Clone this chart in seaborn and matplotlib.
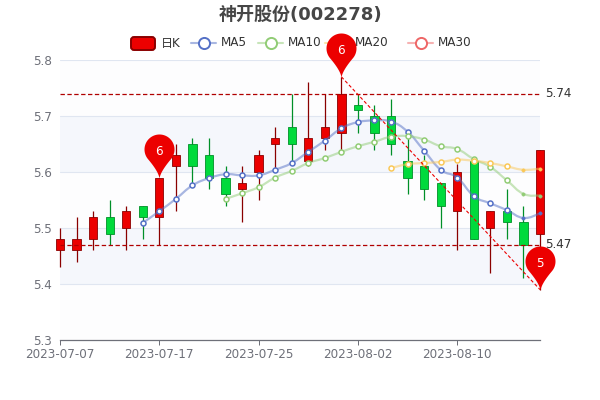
import matplotlib
matplotlib.use('Agg')
import matplotlib.pyplot as plt
import numpy as np
import pandas as pd
import seaborn as sns
from matplotlib.lines import Line2D
from matplotlib.patches import FancyBboxPatch, PathPatch
from matplotlib.path import Path
from matplotlib.transforms import Affine2D

# Daily k-line values
dates = ['2023-07-07', '2023-07-10', '2023-07-11', '2023-07-12', '2023-07-13', '2023-07-14',
         '2023-07-17', '2023-07-18', '2023-07-19', '2023-07-20', '2023-07-21', '2023-07-24',
         '2023-07-25', '2023-07-26', '2023-07-27', '2023-07-28', '2023-07-31', '2023-08-01',
         '2023-08-02', '2023-08-03', '2023-08-04', '2023-08-07', '2023-08-08', '2023-08-09',
         '2023-08-10', '2023-08-11', '2023-08-14', '2023-08-15', '2023-08-16', '2023-08-17']
opens = [5.46, 5.46, 5.48, 5.52, 5.50, 5.54, 5.52, 5.61, 5.65, 5.63, 5.59, 5.57, 5.60, 5.65, 5.68,
         5.62, 5.66, 5.67, 5.72, 5.70, 5.70, 5.62, 5.61, 5.58, 5.53, 5.62, 5.50, 5.53, 5.51, 5.49]
closes = [5.48, 5.48, 5.52, 5.49, 5.53, 5.52, 5.59, 5.63, 5.61, 5.59, 5.56, 5.58, 5.63, 5.66, 5.65,
          5.66, 5.68, 5.74, 5.71, 5.67, 5.65, 5.59, 5.57, 5.54, 5.60, 5.48, 5.53, 5.51, 5.47, 5.64]
lows = [5.43, 5.44, 5.46, 5.47, 5.46, 5.48, 5.47, 5.53, 5.58, 5.57, 5.54, 5.51, 5.55, 5.60, 5.62,
        5.61, 5.64, 5.64, 5.67, 5.64, 5.63, 5.56, 5.55, 5.50, 5.46, 5.48, 5.42, 5.48, 5.41, 5.39]
highs = [5.50, 5.52, 5.53, 5.55, 5.54, 5.54, 5.59, 5.65, 5.66, 5.66, 5.61, 5.61, 5.64, 5.68, 5.74,
         5.76, 5.74, 5.77, 5.74, 5.72, 5.73, 5.66, 5.63, 5.58, 5.615, 5.62, 5.53, 5.57, 5.54, 5.64]

ma5 = [None, None, None, None, None, 5.509, 5.53, 5.552, 5.576, 5.589, 5.596, 5.594, 5.594, 5.604,
       5.616, 5.636, 5.656, 5.678, 5.689, 5.692, 5.69, 5.672, 5.638, 5.604, 5.59, 5.557, 5.544,
       5.532, 5.518, 5.526]
ma10 = [None] * 10 + [5.552, 5.562, 5.573, 5.59, 5.602, 5.616, 5.625, 5.636, 5.646, 5.654, 5.663,
                      5.664, 5.658, 5.646, 5.641, 5.623, 5.609, 5.585, 5.561, 5.558]
ma20 = [None] * 20 + [5.607, 5.614, 5.616, 5.618, 5.622, 5.62, 5.616, 5.61, 5.604, 5.606]

y_ticks = [5.3, 5.4, 5.5, 5.6, 5.7, 5.8]
x_ticks = [0, 6, 12, 18, 24]
mark_levels = [5.74, 5.47]
pins = [(6, 5.59, '6'), (17, 5.77, '6'), (29, 5.39, '5')]
trend_x = [17, 29]
trend_y = [5.77, 5.39]

RED, RED_DARK = '#ec0000', '#8a0000'
GREEN, GREEN_DARK = '#00da3c', '#008f28'
BLUE, LIME, AMBER, CORAL = '#5470c6', '#91cc75', '#fac858', '#ee6666'
AXIS = '#6e7079'
CJK = ['DejaVu Sans', 'Noto Sans CJK SC']

sns.set_style('white')
plt.rcParams['font.family'] = CJK

fig = plt.figure(figsize=(6, 4), dpi=100)
ax = fig.add_axes([60 / 600, 60 / 400, 480 / 600, 280 / 400])
# pixel coordinates from the top left, for legend and title
px = Affine2D().scale(1, -1).translate(0, 400)

x = np.arange(len(dates))
ax.set_xlim(0, 29)
ax.set_ylim(5.3, 5.8)

# background bands and grid
for i, low in enumerate(y_ticks[:-1]):
    ax.axhspan(low, low + 0.1, color='#f5f7fc' if i in (1, 3) else '#fdfdfe', lw=0, zorder=0)
for t in y_ticks[1:]:
    ax.axhline(t, color='#e0e6f1', lw=0.8, zorder=1)

# candles
opens_a, closes_a = np.array(opens), np.array(closes)
up = closes_a >= opens_a
ax.vlines(x, lows, highs, colors=np.where(up, RED_DARK, GREEN_DARK), lw=0.9, zorder=2, clip_on=False)
ax.bar(x, np.abs(closes_a - opens_a), bottom=np.minimum(opens_a, closes_a), width=0.5,
       color=np.where(up, RED, GREEN), edgecolor=np.where(up, RED_DARK, GREEN_DARK),
       linewidth=0.6, zorder=3, clip_on=False)


def smooth_path(xs, ys, k=0.22):
    verts = [(xs[0], ys[0])]
    codes = [Path.MOVETO]
    n = len(xs)
    for i in range(n - 1):
        p0 = (xs[max(i - 1, 0)], ys[max(i - 1, 0)])
        p1 = (xs[i], ys[i])
        p2 = (xs[i + 1], ys[i + 1])
        p3 = (xs[min(i + 2, n - 1)], ys[min(i + 2, n - 1)])
        verts += [(p1[0] + (p2[0] - p0[0]) * k, p1[1] + (p2[1] - p0[1]) * k),
                  (p2[0] - (p3[0] - p1[0]) * k, p2[1] - (p3[1] - p1[1]) * k),
                  p2]
        codes += [Path.CURVE4] * 3
    return Path(verts, codes)


# moving averages: smooth line plus hollow symbols
for values, color in [(ma5, BLUE), (ma10, LIME), (ma20, AMBER)]:
    df = pd.DataFrame({'x': x, 'y': values}).dropna()
    ax.add_patch(PathPatch(smooth_path(df['x'].values, df['y'].values), fc='none', ec=color,
                           lw=1.6, alpha=0.5, zorder=4, clip_on=False))
    sns.scatterplot(data=df.iloc[:-2], x='x', y='y', ax=ax, s=13, color='white', edgecolor=color,
                    linewidth=1.1, zorder=5, clip_on=False, legend=False)
    sns.scatterplot(data=df.iloc[-2:], x='x', y='y', ax=ax, s=6, color=color, edgecolor=color,
                    linewidth=0.3, zorder=5, clip_on=False, legend=False)

# mark lines
for level in mark_levels:
    ax.plot([0, 29], [level, level], color='#b00000', ls=(0, (3.5, 2)), lw=0.9, zorder=6, clip_on=False)
    ax.annotate(f'{level:.2f}', (29, level), xytext=(3.6, 0), textcoords='offset points',
                va='center', ha='left', fontsize=8.64, color='#333333', zorder=7, annotation_clip=False)
ax.plot(trend_x, trend_y, color=RED, ls=(0, (3, 2)), lw=0.8, zorder=6, clip_on=False)

# legend, drawn in pixels under the pins
ax.add_patch(FancyBboxPatch((131, 37), 24, 13, boxstyle='round,pad=0,rounding_size=3', fc=RED,
                            ec=RED_DARK, lw=1.4, transform=px, clip_on=False, zorder=8))
ax.text(161, 43, '日K', transform=px, fontsize=8.64, color='#333333', va='center', zorder=8)
for x0, label, color in [(191, 'MA5', BLUE), (258, 'MA10', LIME), (325, 'MA20', AMBER), (408, 'MA30', CORAL)]:
    ax.add_line(Line2D([x0, x0 + 25], [43, 43], color=color, lw=1.5, alpha=0.5, transform=px,
                       clip_on=False, zorder=8))
    ax.add_line(Line2D([x0 + 12.5], [43], marker='o', ms=8, mfc='white', mec=color, mew=1.4,
                       transform=px, clip_on=False, zorder=8))
    ax.text(x0 + 30, 43, label, transform=px, fontsize=8.64, color='#333333', va='center', zorder=8)

# pin shape, tip at the origin, pixels
theta = np.radians(np.linspace(-40, 220, 60))
arc = np.column_stack([15 * np.cos(theta), 29 + 15 * np.sin(theta)])
t = np.linspace(0, 1, 12)[:, None]
left_end, right_end = arc[-1], arc[0]
left_ctrl, right_ctrl = np.array([-1.0, 7.0]), np.array([1.0, 7.0])
left_curve = (1 - t) ** 2 * left_end + 2 * t * (1 - t) * left_ctrl
right_curve = 2 * t * (1 - t) * right_ctrl + t ** 2 * right_end
pin_path = Path(np.vstack([[[0, 0]], right_curve[1:], arc, left_curve[1:], [[0, 0]]]))
for pin_x, pin_y, label in pins:
    ax.plot([pin_x], [pin_y], marker=pin_path, ms=2 * 44 * 0.72, color=RED, mew=0, zorder=10, clip_on=False)
    ax.annotate(label, (pin_x, pin_y), xytext=(0, 19), textcoords='offset points', ha='center', va='center',
                color='white', fontsize=8.64, zorder=11, annotation_clip=False)

# axes
sns.despine(ax=ax, left=True)
ax.spines['bottom'].set_color(AXIS)
ax.spines['bottom'].set_linewidth(0.9)
ax.set_xlabel('')
ax.set_ylabel('')
ax.set_yticks(y_ticks)
ax.set_yticklabels([f'{t:.1f}' for t in y_ticks])
ax.set_xticks(x_ticks)
ax.set_xticklabels([dates[i] for i in x_ticks])
ax.tick_params(axis='y', left=False, length=0, pad=5.8, labelsize=8.64, labelcolor=AXIS)
ax.tick_params(axis='x', bottom=True, length=3.6, width=0.72, color=AXIS, pad=2.5, labelsize=8.64, labelcolor=AXIS)
ax.set_xlim(0, 29)
ax.set_ylim(5.3, 5.8)

ax.text(300, 14.5, '神开股份(002278)', transform=px, ha='center', va='center', fontsize=13,
        fontweight='bold', color='#464646', clip_on=False)

fig.savefig('out.png', dpi=100)
plt.close()
